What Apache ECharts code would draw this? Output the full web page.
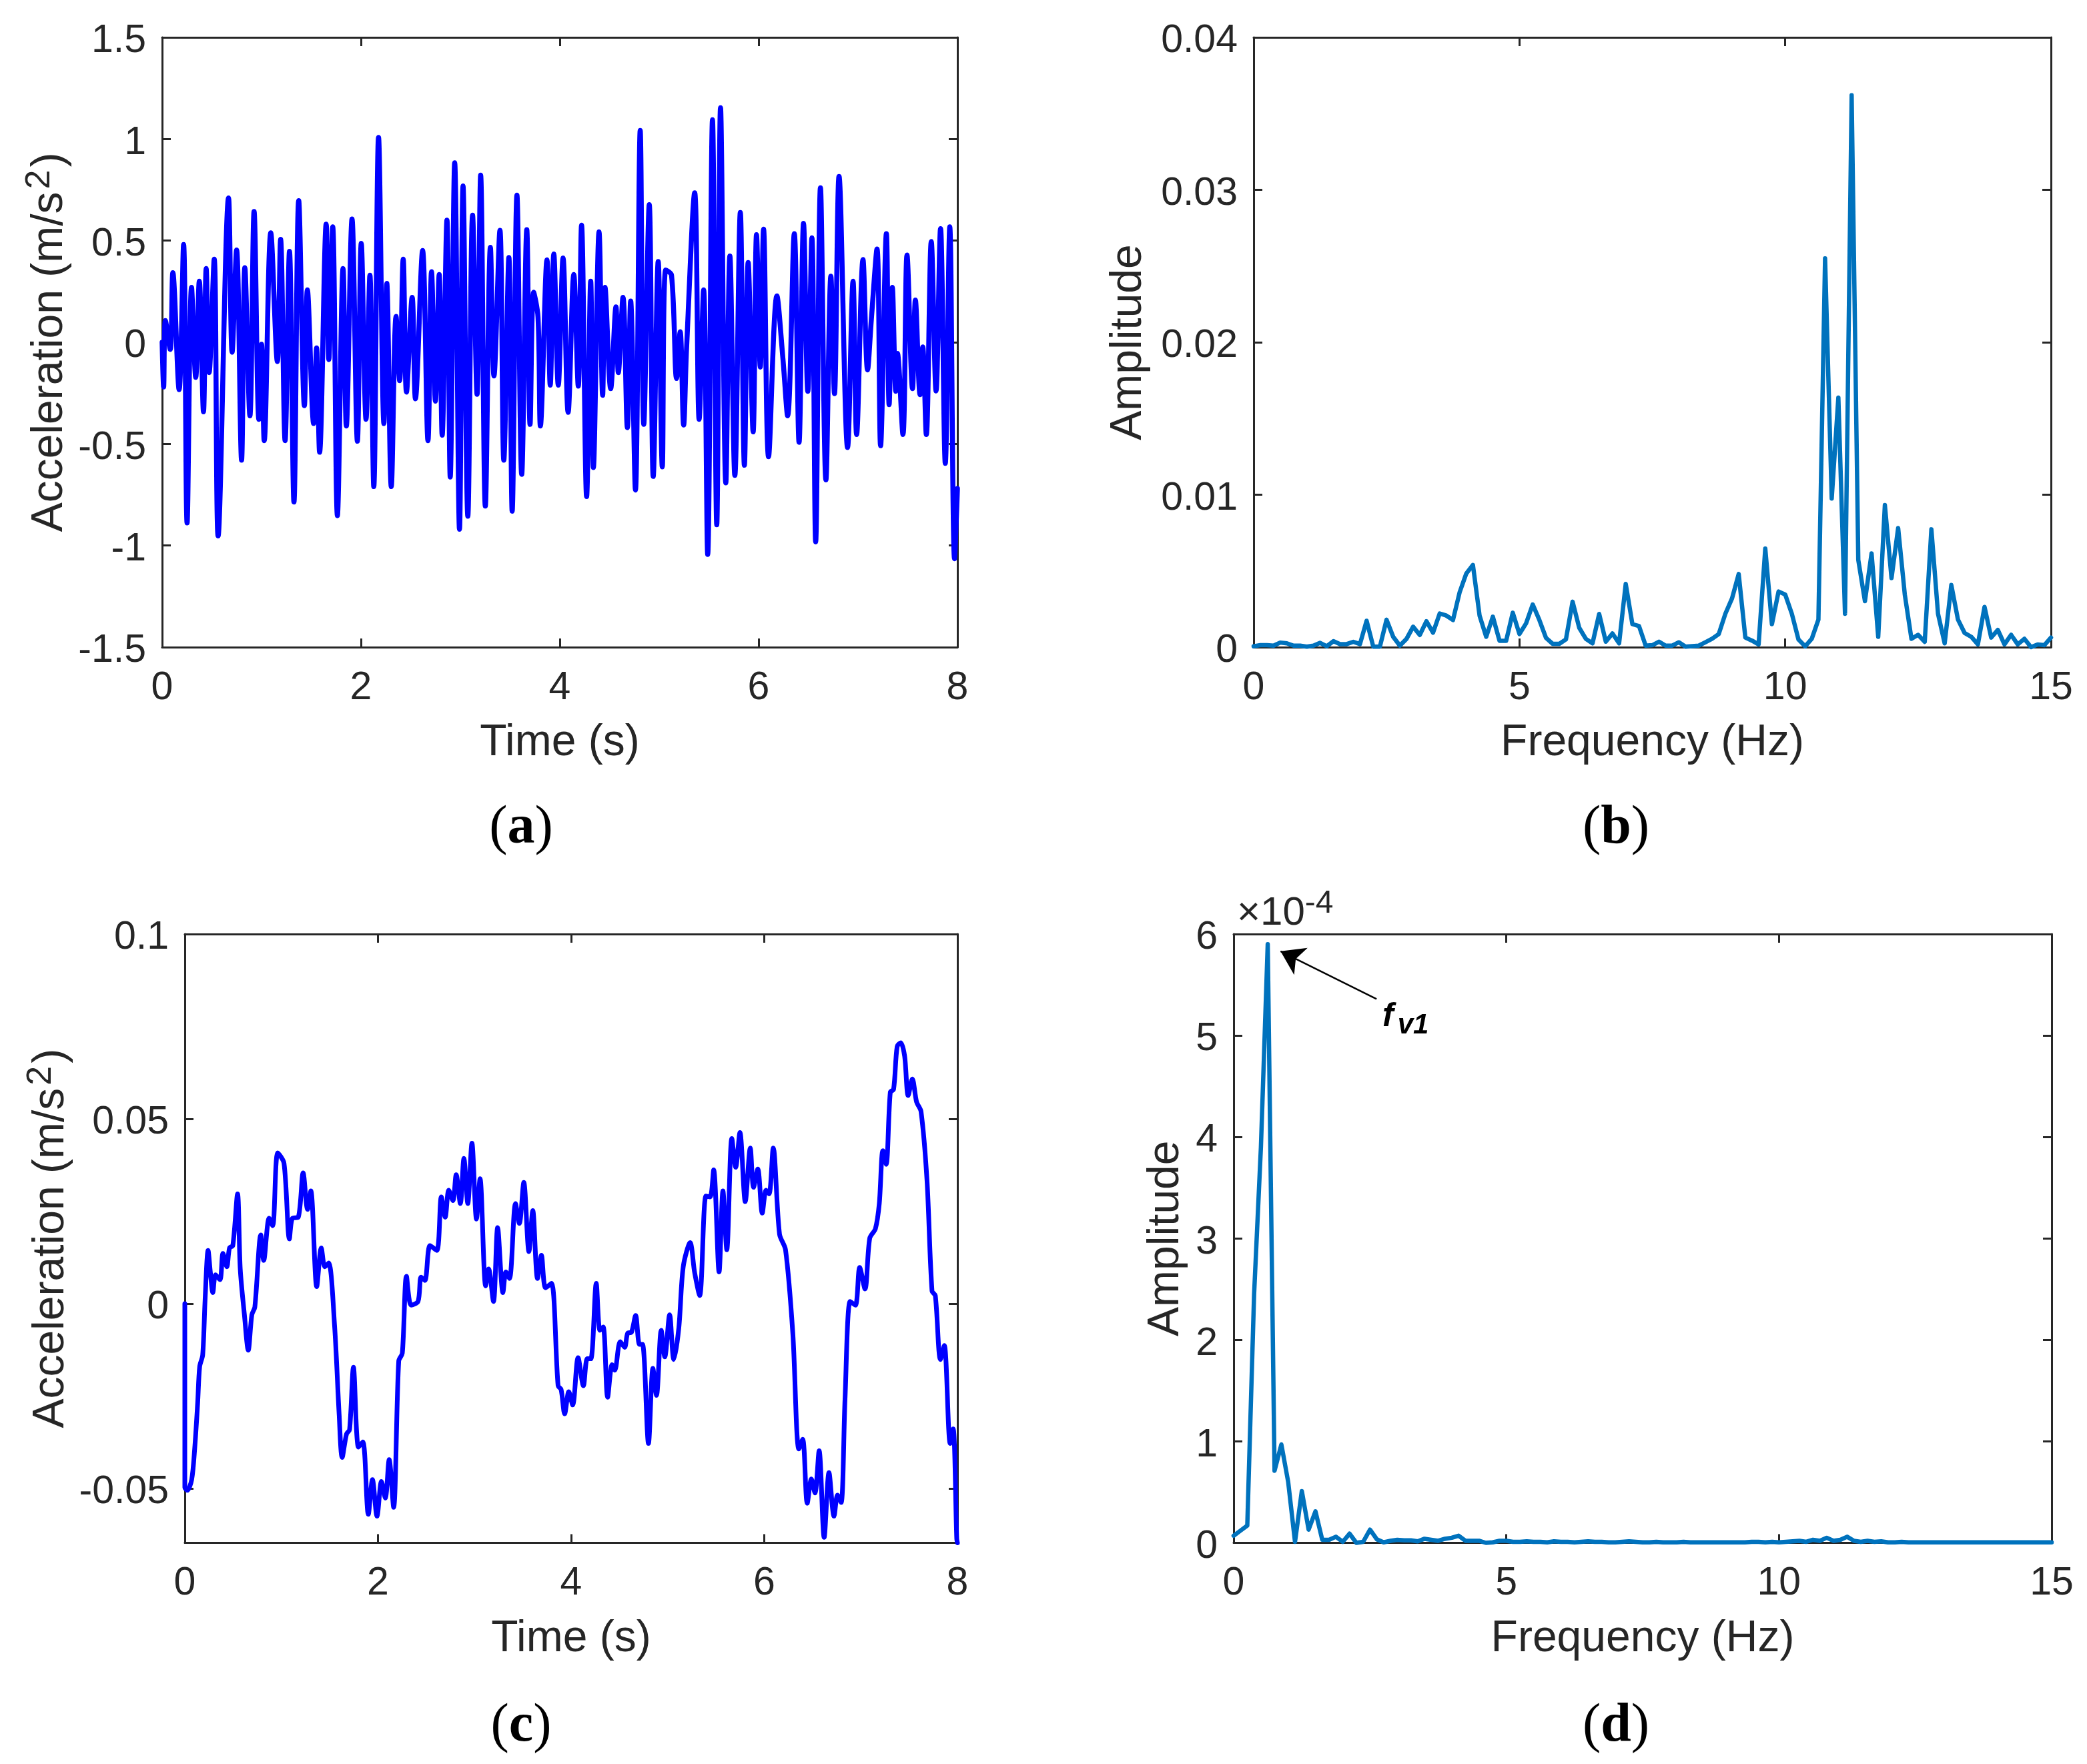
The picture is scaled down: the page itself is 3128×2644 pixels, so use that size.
<!DOCTYPE html>
<html>
<head>
<meta charset="utf-8">
<title>Acceleration and spectrum</title>
<script src="https://cdn.jsdelivr.net/npm/echarts@6/dist/echarts.min.js"></script>
<style>
html,body{margin:0;padding:0;background:#fff;}
#main{width:3128px;height:2644px;}
</style>
</head>
<body>
<div id="main"></div>
<script>
// (a) 时程
var timeA = [0,.015,.033,.081,.108,.171,.216,.251,.296,.338,.374,.416,.443,.473,.524,.563,.668,.704,.749,.799,.832,.883,.925,.973,1,1.027,1.093,1.159,1.192,1.237,1.281,1.326,1.374,1.431,1.461,1.524,1.554,1.584,1.65,1.677,1.716,1.763,1.82,1.853,1.91,1.964,2.003,2.051,2.09,2.129,2.177,2.231,2.26,2.305,2.353,2.389,2.425,2.458,2.515,2.548,2.62,2.674,2.71,2.749,2.787,2.817,2.865,2.898,2.943,2.991,3.027,3.075,3.123,3.168,3.204,3.251,3.302,3.338,3.398,3.437,3.488,3.521,3.569,3.617,3.668,3.701,3.737,3.781,3.805,3.871,3.904,3.94,3.985,4.033,4.084,4.141,4.186,4.219,4.27,4.311,4.338,4.395,4.431,4.455,4.512,4.565,4.589,4.636,4.68,4.713,4.761,4.809,4.845,4.9,4.94,4.99,5.031,5.065,5.124,5.175,5.211,5.246,5.275,5.357,5.402,5.447,5.488,5.536,5.579,5.617,5.67,5.711,5.761,5.816,5.857,5.895,5.945,5.979,6.017,6.05,6.1,6.184,6.244,6.292,6.359,6.407,6.452,6.495,6.536,6.574,6.622,6.677,6.727,6.763,6.809,6.895,6.95,6.986,7.05,7.096,7.134,7.191,7.227,7.285,7.313,7.345,7.38,7.397,7.452,7.493,7.548,7.577,7.624,7.651,7.687,7.737,7.785,7.83,7.878,7.923,7.971,8];
var accelA = [0,-.22,.107,-.035,.342,-.233,.481,-.889,.27,-.173,.3,-.342,.363,-.149,.409,-.953,.71,-.049,.454,-.58,.367,-.362,.643,-.379,-.01,-.484,.538,-.095,.506,-.484,.447,-.786,.697,-.312,.258,-.4,-.028,-.541,.581,-.085,.568,-.853,.363,-.412,.606,-.487,.487,-.379,.33,-.71,1.008,-.4,.29,-.71,.127,-.189,.409,-.245,.221,-.278,.451,-.484,.347,-.29,.333,-.457,.601,-.663,.883,-.92,.769,-.856,.625,-.256,.822,-.806,.467,-.166,.551,-.58,.417,-.831,.724,-.65,.554,-.404,.246,.124,-.412,.405,-.211,.434,-.211,.414,-.345,.333,-.216,.576,-.759,.3,-.616,.543,-.261,.27,-.228,.174,-.149,.221,-.42,.203,-.727,1.042,-.404,.677,-.66,.397,-.613,.355,.33,-.178,.052,-.407,-.035,.735,-.379,.258,-1.044,1.095,-.898,1.154,-.692,.424,-.655,.638,-.605,.392,-.441,.529,-.122,.556,-.563,.228,-.077,-.362,.534,-.492,.585,-.241,.514,-.982,.76,-.677,.325,-.253,.816,-.518,.3,-.454,.407,-.136,.112,.459,-.509,.534,-.307,.27,-.241,-.055,-.454,.429,-.228,.208,-.258,-.023,-.454,.496,-.24,.559,-.596,.568,-1.065,-.72];

// (b) 频谱，频率间隔 0.125 Hz
var freqStep = 0.125;
var ampB = [.00006,.00013,.00013,.0001,.0003,.00025,.0001,.0001,.00003,.0001,.00028,.00006,.00039,.0002,.0002,.00035,.0002,.00173,.00003,.00003,.0018,.00068,.0001,.00054,.00134,.0008,.0017,.00095,.00221,.00207,.00178,.0036,.00483,.00539,.00207,.00068,.002,.00042,.00042,.00226,.00086,.00156,.0028,.00178,.00061,.00022,.00022,.00051,.00298,.00127,.00054,.00025,.00218,.00036,.0009,.00025,.00415,.00151,.00138,.0001,.00013,.00036,.0001,.0001,.00032,.00003,.00007,.0001,.00032,.00055,.00086,.0022,.0032,.0048,.00063,.00043,.00018,.00647,.00151,.00365,.00345,.00219,.0005,.00005,.00055,.00181,.0255,.00975,.01637,.00219,.0362,.00572,.00302,.00615,.00068,.00932,.00453,.00781,.00345,.00055,.00081,.00035,.00773,.00219,.00025,.00408,.00181,.00093,.00068,.00018,.00264,.00063,.00113,.00018,.00081,.00018,.00055,0,.00018,.00013,.00063];

// (c) 时程
var timeC = [0,0,.025,.071,.102,.133,.154,.185,.21,.241,.265,.29,.318,.364,.395,.435,.463,.497,.546,.574,.617,.657,.694,.725,.787,.817,.873,.91,.962,1.027,1.083,1.114,1.175,1.225,1.271,1.305,1.366,1.413,1.45,1.49,1.551,1.598,1.629,1.675,1.706,1.746,1.798,1.844,1.9,1.943,1.99,2.036,2.076,2.116,2.162,2.215,2.252,2.295,2.344,2.415,2.446,2.486,2.539,2.61,2.656,2.696,2.733,2.776,2.81,2.853,2.89,2.93,2.973,3.02,3.057,3.115,3.146,3.196,3.239,3.294,3.325,3.362,3.424,3.464,3.51,3.563,3.603,3.652,3.692,3.735,3.797,3.865,3.896,3.933,3.976,4.016,4.072,4.127,4.167,4.204,4.26,4.298,4.332,4.378,4.424,4.452,4.508,4.554,4.585,4.625,4.668,4.708,4.739,4.801,4.847,4.884,4.933,4.97,5.02,5.063,5.115,5.161,5.232,5.279,5.331,5.396,5.439,5.476,5.532,5.572,5.612,5.664,5.704,5.748,5.803,5.855,5.889,5.933,5.979,6.019,6.05,6.093,6.158,6.22,6.296,6.358,6.398,6.445,6.488,6.525,6.568,6.62,6.67,6.722,6.759,6.796,6.836,6.889,6.944,6.988,7.043,7.092,7.151,7.191,7.228,7.262,7.305,7.339,7.376,7.413,7.453,7.49,7.533,7.577,7.623,7.685,7.737,7.771,7.824,7.864,7.925,7.956,7.993,8];
var accelC = [0,-.0497,-.0505,-.0476,-.0393,-.0269,-.017,-.0139,.0011,.0144,.0084,.003,.0078,.0065,.0136,.01,.0151,.0157,.0297,.0094,-.003,-.0126,-.003,-.0009,.0186,.0117,.0231,.0211,.0408,.038,.0175,.0231,.0234,.0354,.0255,.0305,.0046,.0151,.01,.011,-.0061,-.03,-.0416,-.0352,-.0341,-.0172,-.0388,-.0374,-.057,-.0476,-.0575,-.0481,-.0526,-.0422,-.0551,-.0155,-.0134,.0074,-.0004,.0006,.0072,.0063,.0157,.0144,.0289,.0234,.0307,.0279,.0349,.0271,.0393,.0271,.0434,.0229,.0338,.0048,.0094,.0006,.0206,.003,.0086,.0068,.0271,.0217,.0328,.0141,.0252,.0068,.0131,.0043,.0055,-.0222,-.0232,-.0298,-.0238,-.0274,-.0146,-.0222,-.0149,-.0149,.0055,-.0072,-.0063,-.0253,-.0165,-.018,-.0103,-.0118,-.008,-.0077,-.0032,-.011,-.011,-.0378,-.0175,-.0248,-.0072,-.0144,-.003,-.0151,-.0066,.01,.0165,.0084,.0022,.0291,.0289,.0362,.0086,.0305,.0146,.0447,.0369,.0463,.0276,.0421,.0315,.0364,.0245,.0307,.0297,.0421,.0188,.0146,-.0082,-.0393,-.0367,-.054,-.0474,-.0512,-.0398,-.0632,-.0457,-.0575,-.0518,-.0538,-.0258,.0006,-.0004,.0098,.004,.0177,.0203,.0271,.0414,.0377,.0572,.058,.0696,.0706,.067,.0563,.0608,.0546,.052,.0333,.0034,.0022,-.0151,-.0113,-.0378,-.0339,-.0637,-.0647];

// (d) 频谱，单位 1e-4
var ampD = [.07,.12,.17,2.45,3.9,5.9,.71,.97,.6,.01,.51,.13,.31,.03,.03,.06,.01,.09,0,.01,.13,.035,.005,.02,.03,.025,.025,.015,.04,.03,.02,.04,.05,.07,.02,.02,.02,0,.005,.02,.02,.01,.01,.015,.01,.01,.005,.015,.01,.01,.005,.01,.015,.01,.01,.005,.005,.01,.015,.01,.005,.005,.01,.005,.005,.005,.01,.005,.005,.005,.005,.005,.005,.005,.005,.005,.01,.01,.005,.01,.005,.01,.015,.02,.01,.03,.02,.05,.02,.03,.06,.02,.01,.02,.01,.015,.005,.005,.01,.005,.005,.005,.005,.005,.005,.005,.005,.005,.005,.005,.005,.005,.005,.005,.005,.005,.005,.005,.005,.005,.005];

// tick 值
var yTicksC = [-0.05, 0, 0.05, 0.1];

var inkColor = '#262626';
var tickFont = 59;
var nameFont = 66;

function zip(xs, ys){
    var out = [];
    for (var i = 0; i < ys.length; i++) { out.push([xs[i], ys[i]]); }
    return out;
}
function spectrum(ys){
    var out = [];
    for (var i = 0; i < ys.length; i++) { out.push([i * freqStep, ys[i]]); }
    return out;
}

var accelName = '{t|Acceleration (m/s}{s|2}{t|)}';
var nameRich = {
    t: {fontSize: nameFont, fontFamily: 'Liberation Sans', color: inkColor},
    s: {fontSize: 52, fontFamily: 'Liberation Sans', color: inkColor, padding: [0, 4, 30, 4]}
};

// 每个子图：下、左主轴 + 上、右镜像轴（只有刻度）
function baseAxis(extra){
    var ax = {
        type: 'value',
        axisLine: {show: true, onZero: false, lineStyle: {color: inkColor, width: 3}},
        axisTick: {show: true, inside: true, length: 13, lineStyle: {color: inkColor, width: 3}},
        splitLine: {show: false}
    };
    for (var k in extra) { ax[k] = extra[k]; }
    return ax;
}
function label(margin){
    return {show: true, color: inkColor, fontSize: tickFont, fontFamily: 'Liberation Sans', margin: margin, hideOverlap: false, showMinLabel: true, showMaxLabel: true};
}
function nameStyle(){
    return {color: inkColor, fontSize: nameFont, fontFamily: 'Liberation Sans', rich: nameRich};
}

var grids = [
    {left: 243, top: 56, width: 1192, height: 914},
    {left: 1879, top: 56, width: 1195, height: 914},
    {left: 277, top: 1400, width: 1158, height: 912.5},
    {left: 1849, top: 1400, width: 1226, height: 912.5}
];

var xCfg = [
    {min: 0, max: 8, interval: 2, name: 'Time (s)'},
    {min: 0, max: 15, interval: 5, name: 'Frequency (Hz)'},
    {min: 0, max: 8, interval: 2, name: 'Time (s)'},
    {min: 0, max: 15, interval: 5, name: 'Frequency (Hz)'}
];
var yCfg = [
    {min: -1.5, max: 1.5, interval: 0.5, name: accelName, gap: 127},
    {min: 0, max: 0.04, interval: 0.01, name: 'Amplitude', gap: 154},
    {min: -0.0647, max: 0.1, name: accelName, gap: 159, custom: yTicksC},
    {min: 0, max: 6, interval: 1, name: 'Amplitude', gap: 68}
];
var lineSmooth = [0.35, false, 0.3, false];

var xAxes = [], yAxes = [];
for (var i = 0; i < 4; i++) {
    xAxes.push(baseAxis({
        gridIndex: i, position: 'bottom', min: xCfg[i].min, max: xCfg[i].max, interval: xCfg[i].interval,
        name: xCfg[i].name, nameLocation: 'middle', nameGap: 111, nameTextStyle: nameStyle(),
        axisLabel: label(32)
    }));
    xAxes.push(baseAxis({
        gridIndex: i, position: 'top', min: xCfg[i].min, max: xCfg[i].max, interval: xCfg[i].interval,
        axisLabel: {show: false}
    }));
    var yMain = baseAxis({
        gridIndex: i, position: 'left', min: yCfg[i].min, max: yCfg[i].max,
        name: yCfg[i].name, nameLocation: 'middle', nameGap: yCfg[i].gap, nameTextStyle: nameStyle(),
        axisLabel: label(24)
    });
    // y 刻度文字略向下偏
    yMain.axisLabel.formatter = '{v|{value}}';
    yMain.axisLabel.rich = {v: {fontSize: tickFont, fontFamily: 'Liberation Sans', color: inkColor, padding: [12, 0, 0, 0]}};
    var yMirror = baseAxis({
        gridIndex: i, position: 'right', min: yCfg[i].min, max: yCfg[i].max,
        axisLabel: {show: false}
    });
    if (yCfg[i].custom) {
        yMain.axisTick.customValues = yCfg[i].custom;
        yMain.axisLabel.customValues = yCfg[i].custom;
        yMirror.axisTick.customValues = yCfg[i].custom;
    } else {
        yMain.interval = yCfg[i].interval;
        yMirror.interval = yCfg[i].interval;
    }
    yAxes.push(yMain);
    yAxes.push(yMirror);
}

function lineSeries(panel, data, color, width){
    return {
        type: 'line',
        xAxisIndex: panel * 2,
        yAxisIndex: panel * 2,
        data: data,
        showSymbol: false,
        symbol: 'none',
        animation: false,
        clip: false,
        smooth: lineSmooth[panel],
        z: 5,
        lineStyle: {color: color, width: width, join: 'round', cap: 'round'}
    };
}

var seriesD = lineSeries(3, spectrum(ampD), '#0072BD', 6.5);
// f_v1 箭头
seriesD.markLine = {
    silent: true,
    animation: false,
    symbol: ['none', 'arrow'],
    symbolSize: 34,
    label: {show: false},
    lineStyle: {color: '#000', width: 2.5, type: 'solid'},
    data: [[{coord: [2.62, 5.36]}, {coord: [0.86, 5.83]}]]
};

function caption(letter, cx, cy){
    return {
        type: 'text', x: cx, y: cy, z: 10,
        style: {
            text: '{p|(}{b|' + letter + '}{p|)}',
            align: 'center', verticalAlign: 'middle',
            rich: {
                p: {fontFamily: 'Liberation Serif', fontSize: 82, fill: '#000'},
                b: {fontFamily: 'Liberation Serif', fontSize: 82, fontWeight: 'bold', fill: '#000'}
            }
        }
    };
}

var myChart = echarts.init(document.getElementById('main'), null, {renderer: 'canvas', width: 3128, height: 2644});
var option = {
    backgroundColor: '#fff',
    animation: false,
    grid: grids,
    xAxis: xAxes,
    yAxis: yAxes,
    series: [
        lineSeries(0, zip(timeA, accelA), '#0000FF', 7.5),
        lineSeries(1, spectrum(ampB), '#0072BD', 6.5),
        lineSeries(2, zip(timeC, accelC), '#0000FF', 7),
        seriesD
    ],
    graphic: [
        caption('a', 781, 1242),
        caption('b', 2422, 1242),
        caption('c', 781, 2588),
        caption('d', 2422, 2588),
        {
            type: 'text', x: 1854, y: 1369, z: 10,
            style: {
                text: '{t|\u00d710}{s|-4}',
                align: 'left', verticalAlign: 'middle',
                rich: {
                    t: {fontFamily: 'Liberation Sans', fontSize: 60, fill: inkColor},
                    s: {fontFamily: 'Liberation Sans', fontSize: 48, fill: inkColor, padding: [0, 0, 28, 0]}
                }
            }
        },
        {
            type: 'text', x: 2072, y: 1524, z: 10,
            style: {
                text: '{f|f}{s|v1}',
                align: 'left', verticalAlign: 'middle',
                rich: {
                    f: {fontFamily: 'Liberation Sans', fontStyle: 'italic', fontWeight: 'bold', fontSize: 50, fill: '#000'},
                    s: {fontFamily: 'Liberation Sans', fontStyle: 'italic', fontWeight: 'bold', fontSize: 42, fill: '#000', padding: [26, 0, 0, 6]}
                }
            }
        }
    ]
};
myChart.setOption(option);
window.addEventListener("resize",function(){
    myChart.resize();
});
</script>
</body>
</html>
